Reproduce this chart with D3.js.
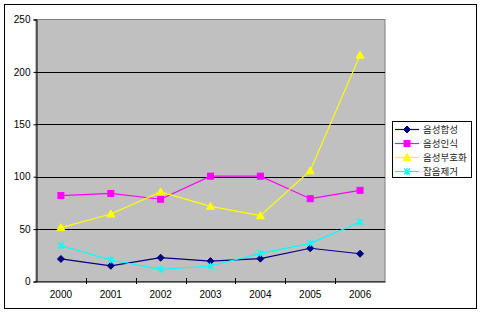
<!DOCTYPE html>
<html>
<head>
<meta charset="utf-8">
<script src="https://cdn.jsdelivr.net/npm/d3@7"></script>
<style>
  body { margin: 0; background: #fff; }
  text { font-family: "Liberation Sans", Arial, sans-serif; fill: #000; }
  .kr { font-family: "Noto Sans CJK KR", sans-serif; }
</style>
</head>
<body>
<div class="chart"></div>
<script>
// data
var years = ["2000", "2001", "2002", "2003", "2004", "2005", "2006"];
var seriesNames = ["음성합성", "음성인식", "음성부호화", "잡음제거"];
var synthesis = [21.5, 15, 22.7, 19.5, 21.8, 31.7, 26.5];
var recognition = [82, 84, 78.5, 100.5, 100.5, 79, 87];
var coding = [51.4, 64.4, 85.4, 71.7, 62.8, 105.7, 216];
var noiseRemoval = [34.2, 20.5, 11.6, 14.8, 26.9, 36.4, 56.8];
var yTicks = [0, 50, 100, 150, 200, 250];

var colors = ["#000080", "#ff00ff", "#ffff00", "#00ffff"];
var shapes = ["diamond", "square", "triangle", "star"];
var allSeries = [synthesis, recognition, coding, noiseRemoval];

var svgWidth = 480;
var svgHeight = 317;

var svg = d3.select(".chart")
  .append("svg")
  .attr("width", svgWidth)
  .attr("height", svgHeight);

// outer frame
svg.append("rect")
  .attr("x", 4.5).attr("y", 4.5)
  .attr("width", 472).attr("height", 304)
  .attr("fill", "#fff")
  .attr("stroke", "#000")
  .attr("stroke-width", 1);

var xScale = d3.scaleBand().domain(years).range([36, 385]);
var yScale = d3.scaleLinear().domain([0, 250]).range([281.5, 19.5]);

var chart = svg.append("g");

// plot area
chart.append("rect")
  .attr("x", 36).attr("y", 19.5)
  .attr("width", 349).attr("height", 262)
  .attr("fill", "#c0c0c0")
  .attr("stroke", "#808080")
  .attr("stroke-width", 1);

// gridlines
chart.selectAll(".grid")
  .data(yTicks.filter(function(d) { return d > 0 && d < 250; }))
  .enter()
  .append("line")
  .attr("x1", 36).attr("x2", 385)
  .attr("y1", function(d) { return Math.round(yScale(d)) + 0.5; })
  .attr("y2", function(d) { return Math.round(yScale(d)) + 0.5; })
  .attr("stroke", "#000")
  .attr("stroke-width", 1);

// y axis
var leftAxis = d3.axisLeft(yScale).tickValues(yTicks).tickSize(3).tickPadding(3);
var gy = chart.append("g").attr("transform", "translate(36.5,0)").call(leftAxis);
gy.select(".domain").attr("stroke", "#000");
gy.selectAll("text").style("font-size", "10px");

// x axis
var bottomAxis = d3.axisBottom(xScale).tickSize(0).tickPadding(9);
var gx = chart.append("g").attr("transform", "translate(0,281.5)").call(bottomAxis);
gx.select(".domain").attr("stroke", "#000");
gx.selectAll("text").style("font-size", "10px");

// x tick marks between categories
chart.selectAll(".xt")
  .data(years.slice(1))
  .enter()
  .append("line")
  .attr("x1", function(d) { return Math.round(xScale(d)) + 0.5; })
  .attr("x2", function(d) { return Math.round(xScale(d)) + 0.5; })
  .attr("y1", 278).attr("y2", 284)
  .attr("stroke", "#000");

function marker(g, shape, color, x, y) {
  if (shape === "diamond") {
    g.append("path")
      .attr("d", "M" + x + "," + (y - 3.5) + "L" + (x + 3.5) + "," + y + "L" + x + "," + (y + 3.5) + "L" + (x - 3.5) + "," + y + "Z")
      .attr("fill", color).attr("stroke", color);
  } else if (shape === "square") {
    g.append("rect")
      .attr("x", x - 3).attr("y", y - 3).attr("width", 6).attr("height", 6)
      .attr("fill", color).attr("stroke", color);
  } else if (shape === "triangle") {
    g.append("path")
      .attr("d", "M" + x + "," + (y - 4) + "L" + (x + 4) + "," + (y + 3) + "L" + (x - 4) + "," + (y + 3) + "Z")
      .attr("fill", color).attr("stroke", color);
  } else {
    g.append("path")
      .attr("d", "M" + (x - 3) + "," + (y - 3) + "L" + (x + 3) + "," + (y + 3) + "M" + (x + 3) + "," + (y - 3) + "L" + (x - 3) + "," + (y + 3) + "M" + x + "," + (y - 3.5) + "L" + x + "," + (y + 3.5))
      .attr("fill", "none").attr("stroke", color).attr("stroke-width", 1.2);
  }
}

var line = d3.line()
  .x(function(d, i) { return xScale(years[i]) + xScale.bandwidth() / 2; })
  .y(function(d) { return yScale(d); });

allSeries.forEach(function(values, s) {
  var g = chart.append("g");
  g.append("path")
    .datum(values)
    .attr("d", line)
    .attr("fill", "none")
    .attr("stroke", colors[s])
    .attr("stroke-width", 1.2);
  values.forEach(function(v, i) {
    marker(g, shapes[s], colors[s], xScale(years[i]) + xScale.bandwidth() / 2, yScale(v));
  });
});

// legend
var legend = svg.append("g");
legend.append("rect")
  .attr("x", 392.5).attr("y", 121.5)
  .attr("width", 79).attr("height", 56)
  .attr("fill", "#fff")
  .attr("stroke", "#000");

seriesNames.forEach(function(name, i) {
  var y = 129.5 + i * 14;
  legend.append("line")
    .attr("x1", 395).attr("x2", 419)
    .attr("y1", y).attr("y2", y)
    .attr("stroke", colors[i]).attr("stroke-width", 1.2);
  marker(legend, shapes[i], colors[i], 407, y);
  legend.append("text")
    .attr("class", "kr")
    .attr("x", 423).attr("y", y + 3.5)
    .style("font-size", "9.5px")
    .style("fill", "#222")
    .text(name);
});
</script>
</body>
</html>
